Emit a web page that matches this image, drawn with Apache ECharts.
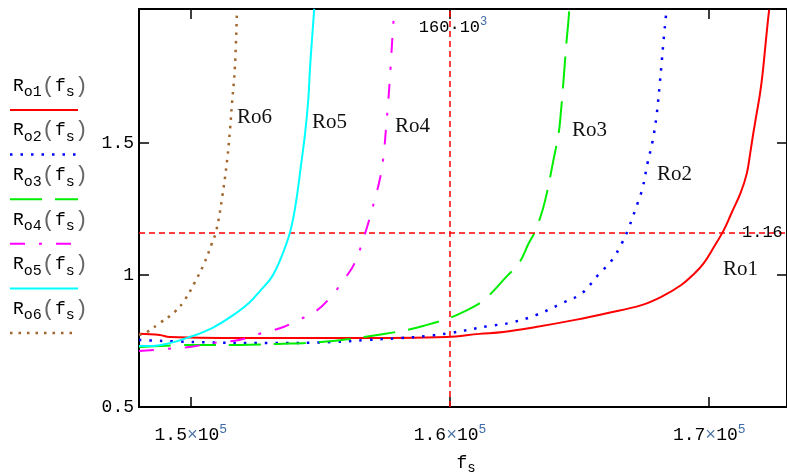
<!DOCTYPE html>
<html>
<head>
<meta charset="utf-8">
<script src="https://cdn.jsdelivr.net/npm/echarts@6/dist/echarts.min.js"></script>
<style>
  html, body { margin: 0; padding: 0; background: #fff; }
  #c { width: 787px; height: 474px; }
</style>
</head>
<body>
<div id="c"></div>
<script>
// Output resistance Ro(fs) for six load cases, switching frequency in Hz
const f1 = [148000,148800,149180,152620,156050,159870,161130,162050,163310,164830,166090,167390,168150,168920,169410,169790,170180,170560,170860,171210,171450,171580,171700,171830,171960,172060,172150,172240,172310];
const r1 = [0.777,0.773,0.765,0.761,0.761,0.765,0.777,0.784,0.803,0.830,0.856,0.886,0.917,0.962,1.004,1.045,1.106,1.170,1.235,1.311,1.385,1.461,1.537,1.612,1.688,1.764,1.852,1.941,2.004];

const f2 = [148000,150210,153000,155400,156820,158080,159110,159990,161510,162280,163310,164340,165100,165710,166250,166630,166860,167240,167430,167620,167810,167960,168080,168150,168230,168340];
const r2 = [0.754,0.746,0.742,0.746,0.754,0.761,0.769,0.780,0.807,0.818,0.848,0.894,0.932,1.000,1.057,1.121,1.170,1.273,1.330,1.424,1.505,1.598,1.712,1.788,1.879,1.992];

const f3 = [148000,150210,151860,153380,155020,156170,157200,158340,159110,159760,160250,160900,161400,162160,162660,163040,163270,163570,163760,163990,164180,164260,164370,164490,164570,164600];
const r3 = [0.727,0.735,0.735,0.739,0.746,0.758,0.773,0.792,0.811,0.830,0.848,0.879,0.913,0.992,1.045,1.121,1.163,1.246,1.322,1.436,1.530,1.598,1.727,1.879,1.966,2.008];

const f4 = [148000,149070,149950,150820,151860,152730,153570,154150,154720,155290,155980,156320,156740,157080,157310,157430,157540,157620,157700,157770,157850];
const r4 = [0.712,0.720,0.727,0.742,0.754,0.780,0.803,0.830,0.856,0.905,0.992,1.045,1.163,1.280,1.371,1.447,1.568,1.663,1.777,1.890,2.008];

const f5 = [148000,148420,149180,149950,150820,151590,152240,152700,153120,153460,153840,154070,154260,154410,154530,154600,154760];
const r5 = [0.731,0.731,0.742,0.765,0.799,0.845,0.894,0.943,0.992,1.060,1.167,1.284,1.424,1.538,1.663,1.788,2.008];

const f6 = [148000,148305,148800,149370,149760,150140,150520,150790,150980,151210,151400,151510,151590,151700,151780];
const r6 = [0.773,0.784,0.818,0.860,0.905,0.970,1.045,1.114,1.167,1.295,1.436,1.549,1.652,1.788,2.004];

const traceNames = ['Ro1', 'Ro2', 'Ro3', 'Ro4', 'Ro5', 'Ro6'];
const xTicks = [150000, 160000, 170000];
const yTicks = [0.5, 1, 1.5];
const markerFreq = 160000;
const markerLevel = 1.16;

// Axis ranges
const X_MIN = 148000, X_MAX = 173000;
const Y_MIN = 0.5, Y_MAX = 2.0076;

const MONO = '"Liberation Mono", "DejaVu Sans Mono", monospace';
const SERIF = '"Liberation Serif", "DejaVu Serif", serif';

// Trace styles: colour, width, dash pattern
const traceStyles = [
  { color: '#ff0000', width: 2,   dash: 'solid' },
  { color: '#0000ff', width: 2.5, dash: [2.5, 8] },
  { color: '#00ee00', width: 2,   dash: [32, 13] },
  { color: '#ff00ff', width: 2,   dash: [15, 14, 3, 14] },
  { color: '#00ffff', width: 2,   dash: 'solid' },
  { color: '#a0682e', width: 2.5, dash: [2.5, 6] }
];

const freqs = [f1, f2, f3, f4, f5, f6];
const vals = [r1, r2, r3, r4, r5, r6];

const chart = echarts.init(document.getElementById('c'), null, { renderer: 'canvas' });

const axisLineStyle = { color: '#000', width: 2 };
const tickStyle = { color: '#000', width: 1.5 };

function xAxisCfg(pos, showLabels) {
  return {
    type: 'value', position: pos, min: X_MIN, max: X_MAX,
    axisLine: { show: true, onZero: false, lineStyle: axisLineStyle },
    axisTick: { show: true, inside: true, length: 10, customValues: xTicks, lineStyle: tickStyle },
    axisLabel: showLabels ? {
      show: true, customValues: xTicks, margin: 16,
      formatter: v => '{n|' + (v / 1e5).toFixed(1) + '}{x|×}{n|10}{sup|5}',
      rich: {
        n: { fontFamily: MONO, fontSize: 18, lineHeight: 24, color: '#000' },
        x: { fontFamily: MONO, fontSize: 18, lineHeight: 24, color: '#4f77a8' },
        sup: { fontFamily: MONO, fontSize: 13, lineHeight: 13, color: '#3d6aa8', verticalAlign: 'top' }
      }
    } : { show: false },
    splitLine: { show: false }
  };
}

function yAxisCfg(pos, showLabels) {
  return {
    type: 'value', position: pos, min: Y_MIN, max: Y_MAX,
    axisLine: { show: true, onZero: false, lineStyle: axisLineStyle },
    axisTick: { show: true, inside: true, length: 10, customValues: yTicks, lineStyle: tickStyle },
    axisLabel: showLabels ? {
      show: true, customValues: yTicks, margin: 5,
      fontFamily: MONO, fontSize: 18, color: '#000',
      formatter: v => String(v)
    } : { show: false },
    splitLine: { show: false }
  };
}

const series = traceNames.map((name, i) => {
  const st = traceStyles[i];
  const s = {
    name: name,
    type: 'line',
    xAxisIndex: 0, yAxisIndex: 0,
    data: freqs[i].map((f, k) => [f, vals[i][k]]),
    showSymbol: false, symbol: 'none',
    smooth: 0.4,
    clip: true,
    lineStyle: { color: st.color, width: st.width, type: st.dash },
    itemStyle: { color: st.color },
    z: 2 + i,
    silent: true
  };
  if (i === 0) {
    s.markLine = {
      silent: true, symbol: 'none', animation: false,
      lineStyle: { color: '#ff0000', width: 1.5, type: [6, 4] },
      label: { show: false },
      data: [{ xAxis: markerFreq }, { yAxis: markerLevel }]
    };
  }
  return s;
});

chart.setOption({
  animation: false,
  backgroundColor: '#fff',
  grid: { left: 139, top: 9, width: 655, height: 398, containLabel: false },
  xAxis: [xAxisCfg('bottom', true), xAxisCfg('top', false)],
  yAxis: [yAxisCfg('left', true), yAxisCfg('right', false)],
  series: series
});

// Legend block on the left, marker readouts, trace tags and the axis title
const graphics = [];
const legendRich = {
  R: { fontFamily: MONO, fontSize: 18, lineHeight: 28, fill: '#000' },
  sub: { fontFamily: MONO, fontSize: 15, lineHeight: 15, fill: '#000', verticalAlign: 'bottom' },
  p: { fontFamily: MONO, fontSize: 22, lineHeight: 28, fill: '#666' }
};
traceNames.forEach((name, i) => {
  const lineY = 110 + i * 44.6;
  const st = traceStyles[i];
  graphics.push({
    type: 'text', x: 13, y: lineY - 24, silent: true,
    style: {
      text: '{R|R}{sub|o' + (i + 1) + '}{p|(}{R|f}{sub|s}{p|)}',
      rich: legendRich, verticalAlign: 'middle', align: 'left'
    }
  });
  graphics.push({
    type: 'line', silent: true,
    shape: { x1: 10, y1: lineY, x2: 78, y2: lineY },
    style: { stroke: st.color, lineWidth: st.width, lineDash: st.dash === 'solid' ? null : st.dash }
  });
});

const pv = chart.convertToPixel({ gridIndex: 0 }, [markerFreq, markerLevel]);
graphics.push({
  type: 'text', x: pv[0] + 3, y: 27, silent: true, z: 10,
  style: {
    text: '{n|160·10}{sup|3}', align: 'center', verticalAlign: 'middle',
    rich: {
      n: { fontFamily: MONO, fontSize: 17, lineHeight: 22, fill: '#000' },
      sup: { fontFamily: MONO, fontSize: 12, lineHeight: 12, fill: '#3d6aa8', verticalAlign: 'top' }
    }
  }
});
graphics.push({
  type: 'text', x: 742, y: pv[1], silent: true, z: 10,
  style: { text: '1.16', fontFamily: MONO, fontSize: 17, fill: '#000', align: 'left', verticalAlign: 'middle' }
});

const tagPos = { Ro6: [237, 117], Ro5: [312, 122], Ro4: [395, 126], Ro3: [572, 130], Ro2: [657, 174], Ro1: [723, 269] };
traceNames.forEach(name => {
  const p = tagPos[name];
  graphics.push({
    type: 'text', x: p[0], y: p[1], silent: true, z: 10,
    style: { text: name, fontFamily: SERIF, fontSize: 21, fill: '#111', align: 'left', verticalAlign: 'middle' }
  });
});

graphics.push({
  type: 'text', x: 466, y: 463, silent: true,
  style: {
    text: '{R|f}{sub|s}', align: 'center', verticalAlign: 'middle',
    rich: {
      R: { fontFamily: MONO, fontSize: 18, lineHeight: 24, fill: '#000' },
      sub: { fontFamily: MONO, fontSize: 14, lineHeight: 14, fill: '#000', verticalAlign: 'bottom' }
    }
  }
});

chart.setOption({ graphic: { elements: graphics } });
</script>
</body>
</html>
